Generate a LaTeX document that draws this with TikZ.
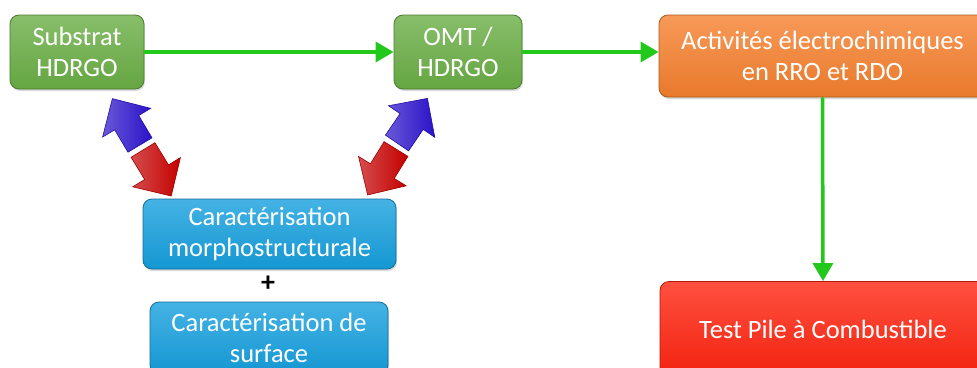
\documentclass[tikz,border=0pt]{standalone}
\usepackage{fontspec}
\setmainfont{Carlito}
\usetikzlibrary{arrows.meta,positioning,shadows}

\definecolor{boxgreen}{HTML}{6AAE45}
\definecolor{boxorange}{HTML}{F5802E}
\definecolor{boxblue}{HTML}{169FDD}
\definecolor{boxred}{HTML}{FF2410}
\definecolor{linkgreen}{HTML}{22C81A}
\definecolor{arrblue}{HTML}{2A12C8}
\definecolor{arrred}{HTML}{C40000}

\tikzset{
  box/.style={rounded corners=9pt, draw=#1!70!black, line width=0.8pt,
    top color=#1!80!white, bottom color=#1!95!black, text=white, align=center,
    inner sep=0pt, font=\fontsize{26.5}{31}\selectfont,
    drop shadow={opacity=0.3, shadow xshift=1pt, shadow yshift=-2pt}},
  link/.style={linkgreen, line width=3.5pt, -{Triangle[length=18pt,width=20pt]}},
  pics/blockarrow/.style={code={
    \draw[draw=#1!80!black, line width=0.6pt, left color=#1!70!white, right color=#1]
      (0,-14) -- (26,-14) -- (26,-28) -- (54,0) -- (26,28) -- (26,14) -- (0,14) -- cycle;
  }}
}

\begin{document}
\begin{tikzpicture}[x=1pt, y=-1pt]
  \useasboundingbox (0,0) rectangle (977,367);
  \clip (0,0) rectangle (977,367);

  % top row
  \node[box=boxgreen, minimum width=134pt, minimum height=74pt] (substrat) at (77,52) {Substrat\\HDRGO};
  \node[box=boxgreen, minimum width=128pt, minimum height=74pt] (omt) at (458,52) {OMT /\\HDRGO};
  \node[box=boxorange, minimum width=327pt, minimum height=82pt] (activ) at (822.5,56) {Activités électrochimiques\\en RRO et RDO};

  % characterisation
  \node[box=boxblue, minimum width=253pt, minimum height=70pt] (morpho) at (269.5,234) {Caractérisation\\morphostructurale};
  \node[font=\fontsize{28}{30}\selectfont\bfseries] (plus) at (268,284) {+};
  \node[box=boxblue, minimum width=238pt, minimum height=72pt] (surface) at (269,338) {Caractérisation de\\surface};

  % fuel cell test
  \node[box=boxred, minimum width=326pt, minimum height=95pt] (pile) at (823,329) {Test Pile à Combustible};

  % green links
  \draw[link] (substrat.east) -- (omt.west);
  \draw[link] (omt.east) -- (omt.east -| activ.west);
  \draw[link] (activ.south) -- (pile.north);

  % double block arrows
  \pic[rotate=120.8] at (140,145) {blockarrow=arrblue};
  \pic[rotate=-58.5] at (143,150) {blockarrow=arrred};
  \pic[rotate=55.7] at (397,143) {blockarrow=arrblue};
  \pic[rotate=-121.7] at (396,149) {blockarrow=arrred};
\end{tikzpicture}
\end{document}
